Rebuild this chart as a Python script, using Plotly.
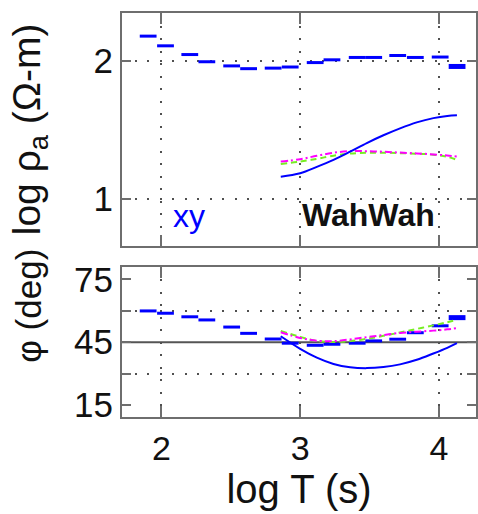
import plotly.graph_objects as go

# ---- data -------------------------------------------------------------
# measured apparent resistivity / phase (dashes) at each period
logT_data = [1.904, 2.029, 2.204, 2.327, 2.506, 2.628, 2.805, 2.928,
             3.108, 3.229, 3.411, 3.53, 3.703, 3.83, 4.009, 4.131]
rho_data = [2.176, 2.106, 2.043, 1.991, 1.961, 1.941, 1.945, 1.953,
            1.985, 2.005, 2.022, 2.022, 2.036, 2.022, 2.025, 1.957]
phase_data = [59.9, 58.8, 57.1, 55.6, 52.2, 49.2, 46.5, 44.5,
              43.5, 44.0, 44.5, 45.6, 46.4, 49.5, 52.8, 56.7]
dash_thickness = [3, 3, 3, 3, 3, 3, 3, 3, 3, 3, 3, 3, 3, 3, 3, 5]

# model response curves
logT_curve = [2.86, 3.0, 3.12, 3.24, 3.36, 3.48, 3.6, 3.72, 3.84, 3.96, 4.06, 4.13]
rho_solid = [1.161, 1.186, 1.232, 1.283, 1.342, 1.404, 1.46, 1.51, 1.553, 1.584, 1.6, 1.605]
rho_dashdot = [1.27, 1.287, 1.312, 1.334, 1.346, 1.345, 1.341, 1.335, 1.329, 1.322, 1.314, 1.306]
rho_dashed = [1.253, 1.27, 1.29, 1.313, 1.328, 1.334, 1.334, 1.331, 1.327, 1.32, 1.305, 1.282]
phase_solid = [47.8, 41.8, 37.6, 34.6, 33.0, 32.6, 33.1, 34.4, 36.6, 39.6, 42.3, 44.5]
phase_dashdot = [49.7, 47.0, 45.7, 45.5, 46.3, 47.4, 48.4, 49.4, 50.0, 50.5, 51.1, 51.7]
phase_dashed = [50.4, 47.5, 45.6, 45.1, 45.5, 46.6, 48.0, 49.6, 51.3, 53.0, 54.5, 55.6]

x_ticks = [2, 3, 4]
rho_ticks = [1, 2]
phase_ticks = [15, 45, 75]
phase_minor = [30, 60]

# ---- styling ----------------------------------------------------------
BLUE = "#0000ff"
MAGENTA = "#ff00ff"
GREEN = "#77ee22"
FRAME = "#6e6e6e"
GRID = "#505050"
FONT = "Liberation Sans"

fig = go.Figure()

# measured data as short horizontal dashes
fig.add_trace(go.Scatter(x=logT_data, y=rho_data, mode="markers",
                         marker=dict(symbol="line-ew", size=12, color=BLUE,
                                     line=dict(color=BLUE, width=dash_thickness)),
                         xaxis="x", yaxis="y", showlegend=False))
fig.add_trace(go.Scatter(x=logT_data, y=phase_data, mode="markers",
                         marker=dict(symbol="line-ew", size=12, color=BLUE,
                                     line=dict(color=BLUE, width=dash_thickness)),
                         xaxis="x2", yaxis="y2", showlegend=False))

# model curves
for ys, col, dash, ax in [
    (rho_dashed, GREEN, "6px,4px", ("x", "y")),
    (rho_dashdot, MAGENTA, "7px,3px,2px,3px", ("x", "y")),
    (rho_solid, BLUE, "solid", ("x", "y")),
    (phase_dashed, GREEN, "6px,4px", ("x2", "y2")),
    (phase_dashdot, MAGENTA, "7px,3px,2px,3px", ("x2", "y2")),
    (phase_solid, BLUE, "solid", ("x2", "y2")),
]:
    fig.add_trace(go.Scatter(x=logT_curve, y=ys, mode="lines",
                             line=dict(color=col, width=2, dash=dash, shape="spline"),
                             xaxis=ax[0], yaxis=ax[1], showlegend=False))

x_range = [1.7154, 4.2674]
common_x = dict(range=x_range, tickvals=x_ticks, ticks="inside", ticklen=11,
                tickwidth=1.5, tickcolor=FRAME, showline=True, linecolor=FRAME,
                linewidth=2, mirror="ticks", showgrid=True, gridcolor=GRID,
                gridwidth=1.5, griddash="2px,10.5px", zeroline=False)
common_y = dict(ticks="inside", ticklen=9, tickwidth=1.5, tickcolor=FRAME,
                showline=True, linecolor=FRAME, linewidth=2, mirror="ticks",
                zeroline=False, tickfont=dict(family=FONT, size=35, color="#111"))

fig.update_layout(
    width=478, height=514,
    margin=dict(l=122, r=0, t=13, b=97),
    paper_bgcolor="white", plot_bgcolor="white",
    xaxis=dict(common_x, domain=[0, 1], anchor="y", showticklabels=False),
    yaxis=dict(common_y, domain=[0.4233, 1], range=[0.6606, 2.343],
               tickvals=rho_ticks, showgrid=True, gridcolor=GRID, gridwidth=1.5,
               griddash="2px,10.5px", anchor="x"),
    xaxis2=dict(common_x, domain=[0, 1], anchor="y2",
                tickfont=dict(family=FONT, size=34, color="#111"),
                title=dict(text="log T (s)", standoff=2,
                           font=dict(family=FONT, size=40, color="#111"))),
    yaxis2=dict(common_y, domain=[0, 0.3713], range=[9.27, 80.87],
                tickvals=phase_ticks, showgrid=False, anchor="x2",
                minor=dict(tickvals=phase_minor, ticks="inside", ticklen=9,
                           tickwidth=1.5, tickcolor=FRAME, showgrid=True,
                           gridcolor=GRID, gridwidth=1.5, griddash="2px,10.5px")),
)

# reference line at 45 degrees
fig.add_shape(type="line", xref="x2 domain", yref="y2", x0=0, x1=1, y0=45, y1=45,
              line=dict(color="#555", width=2), layer="below")

# panel labels and axis titles
fig.add_annotation(x=2.2, y=0.88, xref="x", yref="y", text="xy", showarrow=False,
                   font=dict(family=FONT, size=32, color=BLUE))
fig.add_annotation(x=3.49, y=0.885, xref="x", yref="y", text="<b>WahWah</b>",
                   showarrow=False, font=dict(family=FONT, size=32, color="#111"))
fig.add_annotation(x=-0.263, y=0.712, xref="paper", yref="paper",
                   xanchor="center", yanchor="middle",
                   text="log ρ<sub>a</sub> (Ω-m)", textangle=-90, showarrow=False,
                   font=dict(family=FONT, size=39, color="#111"))
fig.add_annotation(x=-0.263, y=0.275, xref="paper", yref="paper",
                   xanchor="center", yanchor="middle",
                   text="φ (deg)", textangle=-90, showarrow=False,
                   font=dict(family=FONT, size=35, color="#111"))

fig.write_html("out.html")
